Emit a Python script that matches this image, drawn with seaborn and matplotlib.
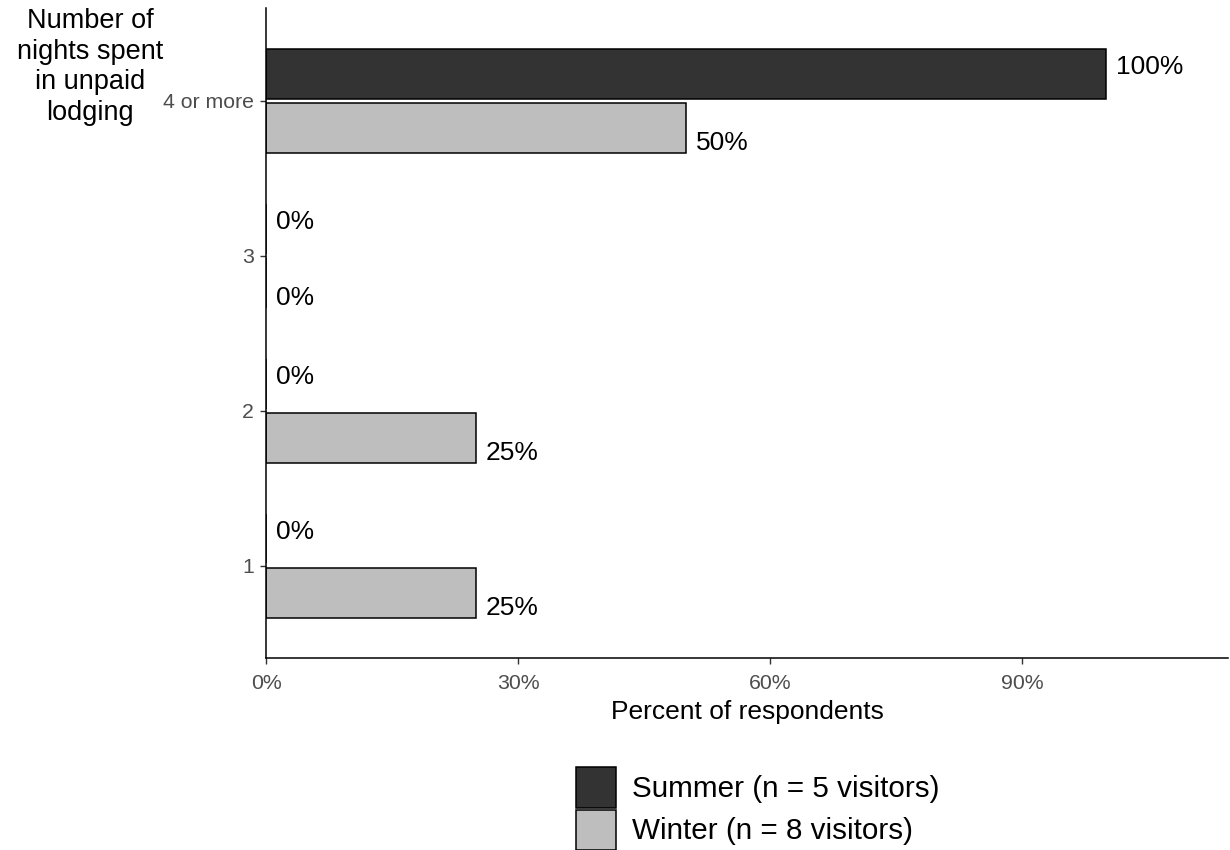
import matplotlib
matplotlib.use('Agg')
import pandas as pd
import matplotlib.pyplot as plt
import matplotlib.patches as mpatches
import seaborn as sns
from matplotlib.ticker import FuncFormatter

# data
nights = ['4 or more', '3', '2', '1']
summer_pct = [100, 0, 0, 0]
winter_pct = [50, 0, 25, 25]
season_labels = ['Summer (n = 5 visitors)', 'Winter (n = 8 visitors)']
season_colors = ['#333333', '#bebebe']
x_ticks = [0, 30, 60, 90]

df = pd.DataFrame({
    'nights': nights * 2,
    'pct': summer_pct + winter_pct,
    'season': [season_labels[0]] * len(nights) + [season_labels[1]] * len(nights),
})

sns.set_theme(style='white')
plt.rcParams['font.family'] = ['Liberation Sans', 'DejaVu Sans']
plt.rcParams['text.color'] = 'black'

fig = plt.figure(figsize=(12.3, 8.5), dpi=100)
ax = fig.add_axes([266 / 1230, 1 - 658 / 850, (1228 - 266) / 1230, (658 - 8) / 850])

sns.barplot(data=df, x='pct', y='nights', hue='season', order=nights,
            hue_order=season_labels, palette=season_colors, orient='h',
            width=0.7, gap=0.09, saturation=1, errorbar=None,
            edgecolor='black', linewidth=1.1, ax=ax)

# value labels, summer a bit above its bar centre, winter a bit below
for cont, dy in zip(ax.containers, [5.2, -10.8]):
    for rect in cont:
        val = rect.get_width()
        ax.annotate('{:.0f}%'.format(val),
                    (val, rect.get_y() + rect.get_height() / 2),
                    xytext=(7, dy), textcoords='offset points',
                    ha='left', va='center', fontsize=19, color='black')

ax.set_xlim(0, 114.5)
ax.set_ylim(3.594, -0.6)
ax.set_xticks(x_ticks)
ax.xaxis.set_major_formatter(FuncFormatter(lambda v, p: '{:.0f}%'.format(v)))

for s in ['top', 'right']:
    ax.spines[s].set_visible(False)
for s in ['left', 'bottom']:
    ax.spines[s].set_color('black')
    ax.spines[s].set_linewidth(1.1)

ax.tick_params(bottom=True, left=True, length=4, width=1, color='#333333',
               labelcolor='#4d4d4d', labelsize=15.3)
ax.tick_params(axis='x', pad=7.3)
ax.tick_params(axis='y', pad=4.5)
ax.set_xlabel('Percent of respondents', fontsize=19, color='black', labelpad=5)
ax.set_ylabel('')

fig.text(90 / 1230, 1 - 8 / 850, 'Number of\nnights spent\nin unpaid\nlodging',
         ha='center', va='top', fontsize=19.5, linespacing=1.23, color='black')

ax.get_legend().remove()
handles = [mpatches.Patch(facecolor=c, edgecolor='black', linewidth=1.1, label=l)
           for c, l in zip(season_colors, season_labels)]
fig.legend(handles=handles, loc='upper left',
           bbox_to_anchor=(576 / 1230, 1 - 767 / 850), frameon=False,
           fontsize=21.3, handlelength=1.35, handleheight=1.73,
           labelspacing=0.07, handletextpad=0.55, borderpad=0, borderaxespad=0,
           labelcolor='black')

fig.savefig('out.png', dpi=100)
